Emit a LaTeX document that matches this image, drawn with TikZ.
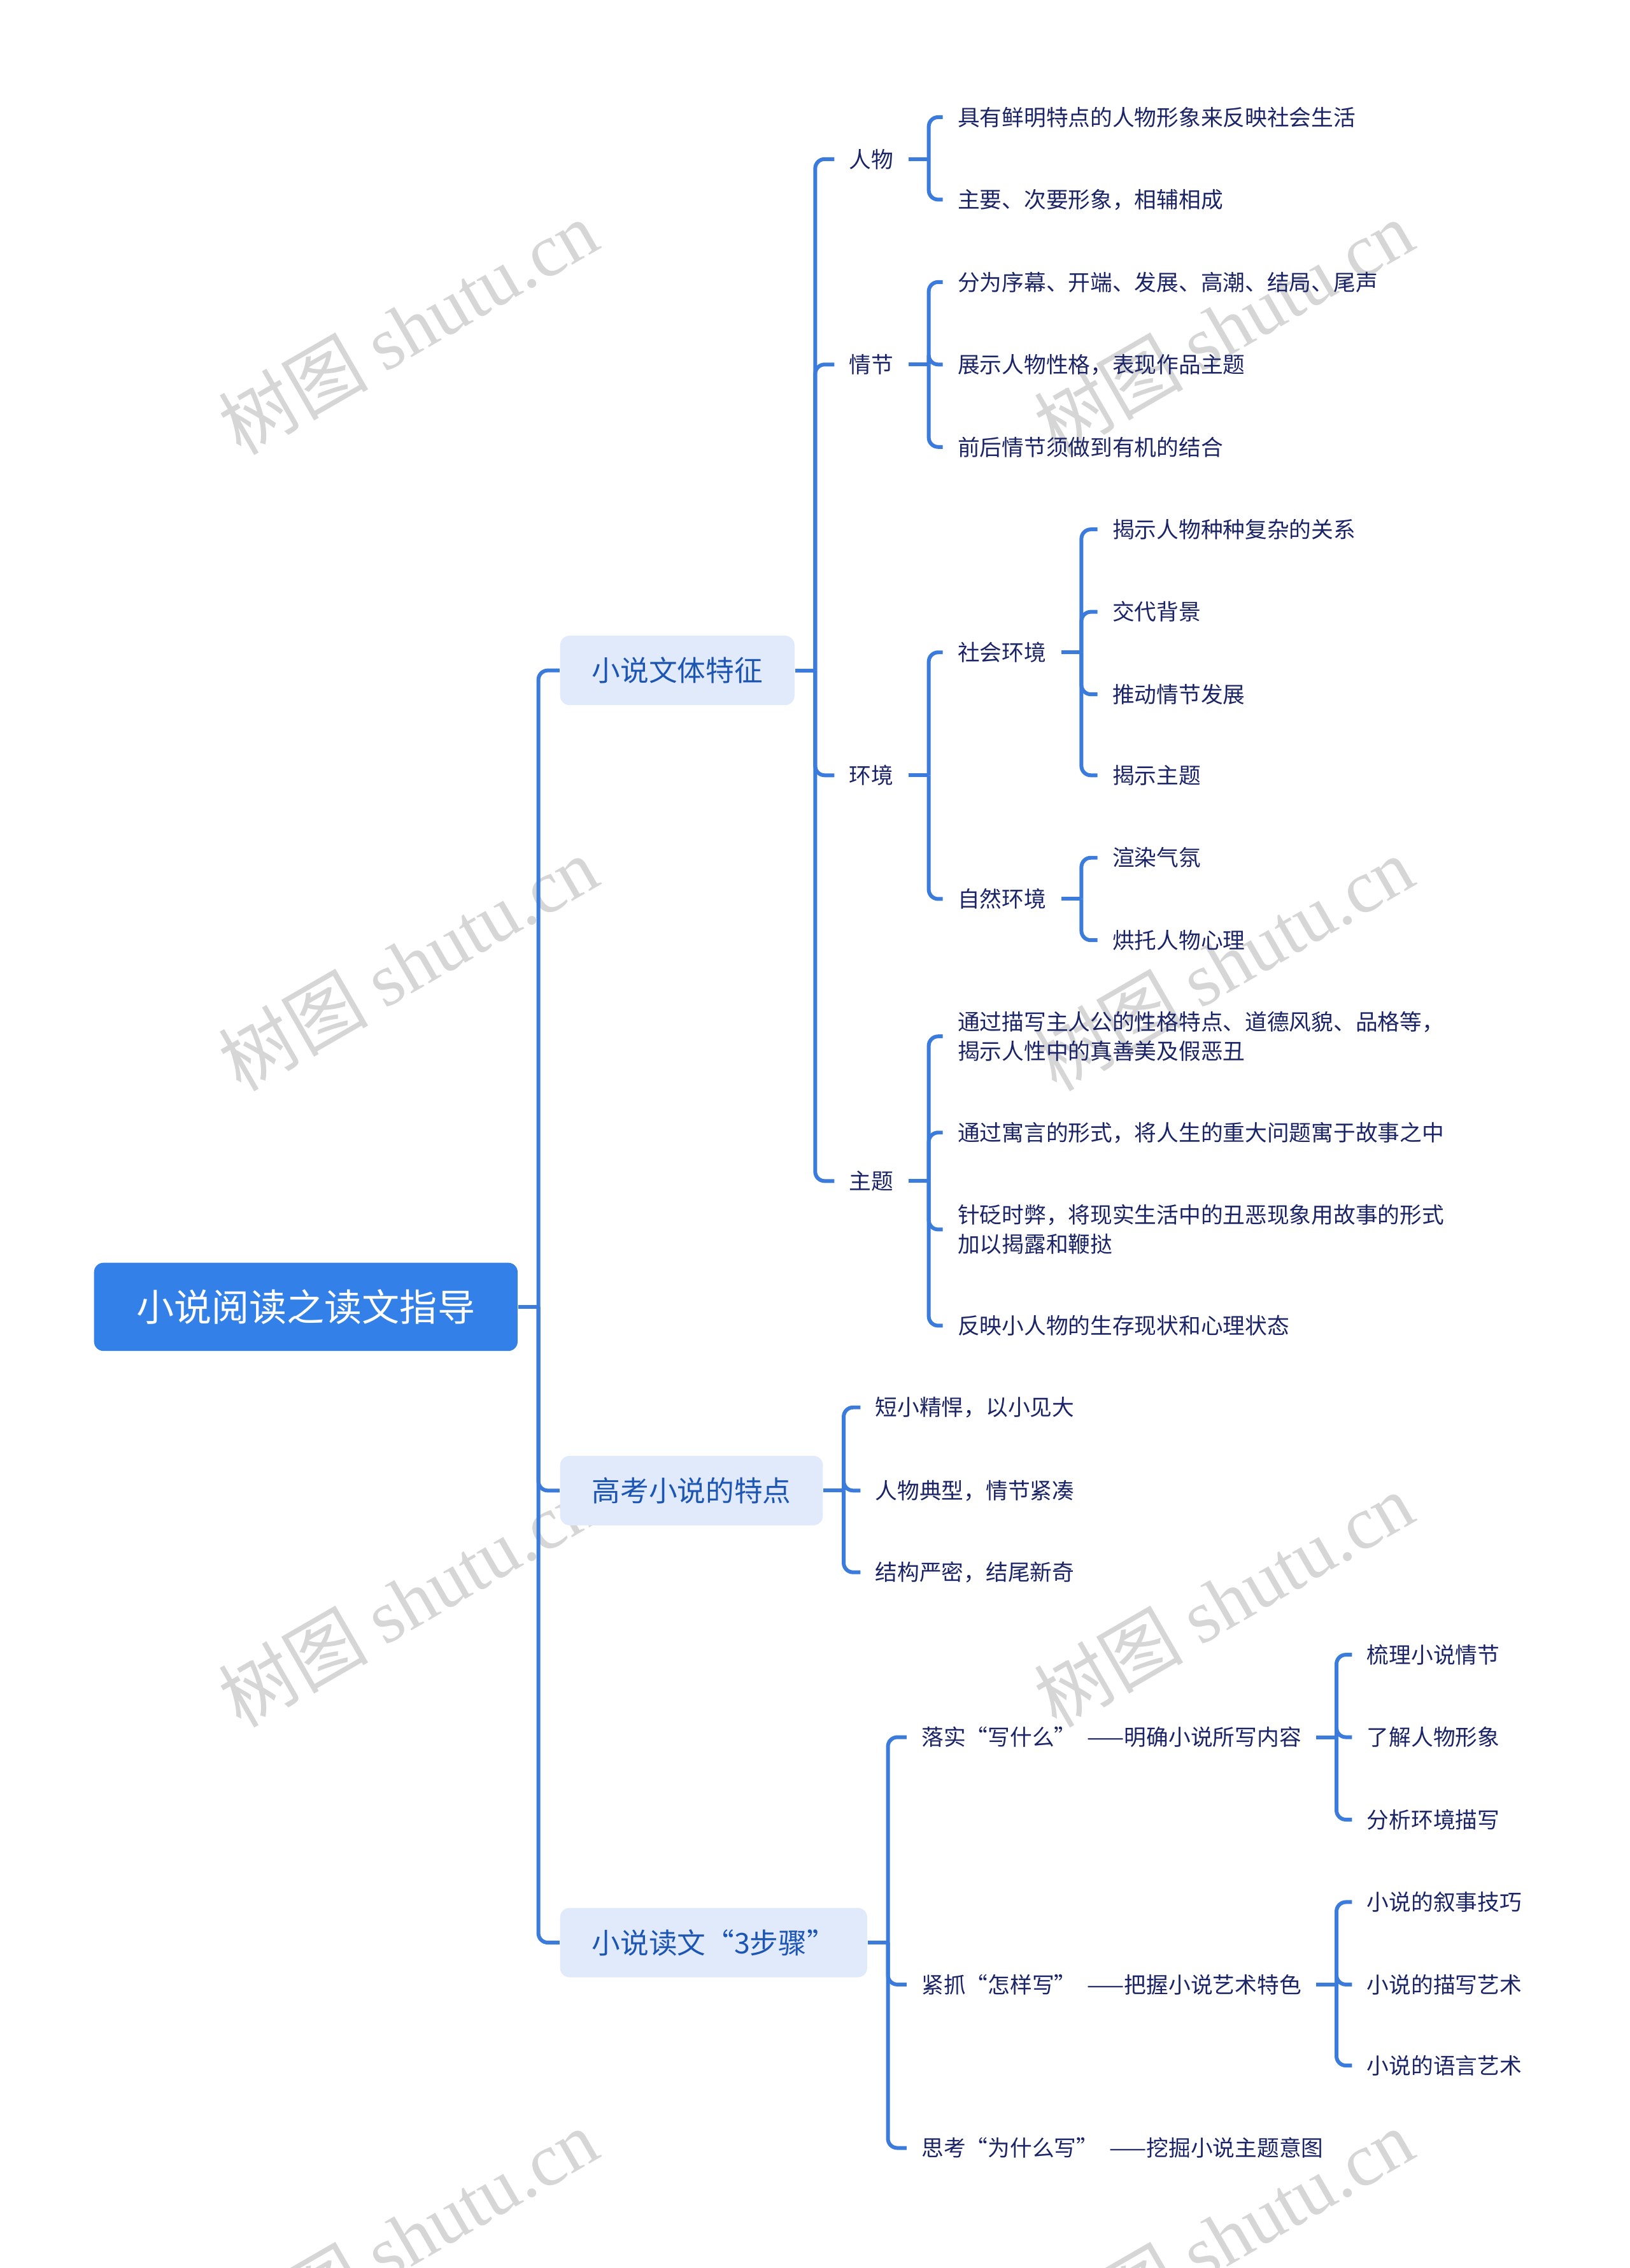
\documentclass[tikz,border=0pt]{standalone}
\usepackage{fontspec}
\setmainfont{Noto Sans CJK SC}
\newfontfamily\wmfont{Liberation Serif}
\usepackage{tikz}
\usetikzlibrary{positioning,calc}
\definecolor{edge}{HTML}{3A7BDB}
\definecolor{rootc}{HTML}{3381E8}
\definecolor{soft}{HTML}{E1EAFB}
\definecolor{deep}{HTML}{1D55B3}
\definecolor{ink}{HTML}{1A2466}
\definecolor{wm}{HTML}{D6D6D6}
\tikzset{
  link/.style={draw=edge,line width=1.5pt},
  elbow/.style={link,rounded corners=0.13cm},
  rootbox/.style={fill=rootc,text=white,rounded corners=0.13cm,minimum width=5.86cm,minimum height=1.22cm,font=\fontsize{14.8}{18}\selectfont},
  bbox/.style={fill=soft,text=deep,rounded corners=0.13cm,inner xsep=0.44cm,minimum height=0.96cm,anchor=west,font=\fontsize{11.2}{14}\selectfont},
  leaf/.style={text=ink,inner xsep=0.2cm,inner ysep=2pt,anchor=west,align=left,font=\fontsize{8.7}{11.4}\selectfont},
  wmark/.style={text=wm,rotate=30,font=\fontsize{29.5}{31}\selectfont},
}
\begin{document}
\begin{tikzpicture}[x=0.02cm,y=-0.02cm]
\useasboundingbox (0,0) rectangle (1127,1568);
\foreach \x in {282,846} \foreach \y in {226,666,1106,1546}
  \node[wmark] (wm-\x-\y) at (\x,\y) {树图 {\wmfont shutu.cn}};

\node[rootbox] (root) at (211.5,903.5) {小说阅读之读文指导};
\node[bbox] (ft) at (387,463.5) {小说文体特征};
\node[bbox] (gk) at (387,1030.5) {高考小说的特点};
\node[bbox] (bz) at (387,1343) {小说读文“3步骤”};

\node[leaf] (rw) at (577,110) {人物};
\node[leaf] (qj) at (577,252) {情节};
\node[leaf] (hj) at (577,536) {环境};
\node[leaf] (zt) at (577,816.5) {主题};
\node[leaf] (rw1) at (652,81) {具有鲜明特点的人物形象来反映社会生活};
\node[leaf] (rw2) at (652,138) {主要、次要形象，相辅相成};
\node[leaf] (qj1) at (652,195) {分为序幕、开端、发展、高潮、结局、尾声};
\node[leaf] (qj2) at (652,252) {展示人物性格，表现作品主题};
\node[leaf] (qj3) at (652,309) {前后情节须做到有机的结合};
\node[leaf] (sh) at (652,451) {社会环境};
\node[leaf] (zr) at (652,621.5) {自然环境};
\node[leaf] (sh1) at (759,366) {揭示人物种种复杂的关系};
\node[leaf] (sh2) at (759,423) {交代背景};
\node[leaf] (sh3) at (759,480) {推动情节发展};
\node[leaf] (sh4) at (759,536) {揭示主题};
\node[leaf] (zr1) at (759,593) {渲染气氛};
\node[leaf] (zr2) at (759,650) {烘托人物心理};
\node[leaf] (zt1) at (652,716.5) {通过描写主人公的性格特点、道德风貌、品格等，\\揭示人性中的真善美及假恶丑};
\node[leaf] (zt2) at (652,783) {通过寓言的形式，将人生的重大问题寓于故事之中};
\node[leaf] (zt3) at (652,850) {针砭时弊，将现实生活中的丑恶现象用故事的形式\\加以揭露和鞭挞};
\node[leaf] (zt4) at (652,916.5) {反映小人物的生存现状和心理状态};

\node[leaf] (gk1) at (595,973) {短小精悍，以小见大};
\node[leaf] (gk2) at (595,1030.5) {人物典型，情节紧凑};
\node[leaf] (gk3) at (595,1087) {结构严密，结尾新奇};

\node[leaf] (lx) at (627,1201) {落实“写什么”\hspace{0.5em}——明确小说所写内容};
\node[leaf] (jz) at (627,1372) {紧抓“怎样写”\hspace{0.5em}——把握小说艺术特色};
\node[leaf] (sk) at (627,1485) {思考“为什么写”\hspace{0.5em}——挖掘小说主题意图};
\node[leaf] (lx1) at (935,1144) {梳理小说情节};
\node[leaf] (lx2) at (935,1201) {了解人物形象};
\node[leaf] (lx3) at (935,1258) {分析环境描写};
\node[leaf] (jz1) at (935,1315) {小说的叙事技巧};
\node[leaf] (jz2) at (935,1372) {小说的描写艺术};
\node[leaf] (jz3) at (935,1428) {小说的语言艺术};

\foreach \p in {root,ft,gk,bz,rw,qj,hj,zt,sh,zr,lx,jz}
  \draw[link] (\p.east) -- ++(14,0) coordinate (\p-j);
\foreach \p/\c in {root/ft,root/gk,root/bz,ft/rw,ft/qj,ft/hj,ft/zt,
  rw/rw1,rw/rw2,qj/qj1,qj/qj2,qj/qj3,hj/sh,hj/zr,sh/sh1,sh/sh2,sh/sh3,sh/sh4,
  zr/zr1,zr/zr2,zt/zt1,zt/zt2,zt/zt3,zt/zt4,gk/gk1,gk/gk2,gk/gk3,
  bz/lx,bz/jz,bz/sk,lx/lx1,lx/lx2,lx/lx3,jz/jz1,jz/jz2,jz/jz3}
  \draw[elbow] (\p-j) |- (\c.west);
\end{tikzpicture}
\end{document}
